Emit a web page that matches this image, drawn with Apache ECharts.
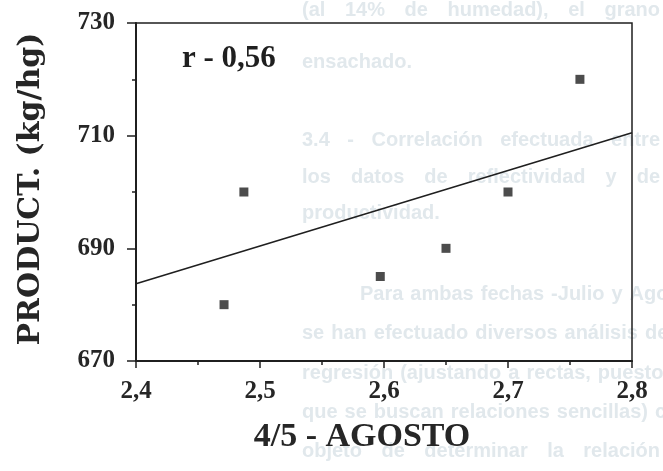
<!DOCTYPE html>
<html>
<head>
<meta charset="utf-8">
<script src="https://cdn.jsdelivr.net/npm/echarts@6/dist/echarts.min.js"></script>
<style>
  html, body { margin: 0; background: #fff; }
  #chart { width: 663px; height: 471px; }
</style>
</head>
<body>
<div id="chart"></div>
<script>
// reflectividad (4/5 agosto) vs productividad
const reflect = [2.471, 2.487, 2.597, 2.65, 2.7, 2.758];
const product = [680, 700, 685, 690, 700, 720];

// recta de regresion
const fitX = [2.4, 2.8];
const fitY = [683.7, 710.5];

const xTicks = [2.4, 2.5, 2.6, 2.7, 2.8];
const yTicks = [670, 690, 710, 730];
const rText = 'r - 0,56';

// texto de la pagina que se transparenta en el escaneo
const pageText = [
  '(al 14% de humedad), el grano',
  'ensachado.',
  '3.4 - Correlación efectuada entre',
  'los datos de reflectividad y de',
  'productividad.',
  'Para ambas fechas -Julio y Agosto-',
  'se han efectuado diversos análisis de',
  'regresión (ajustando a rectas, puesto',
  'que se buscan relaciones sencillas) con',
  'objeto de determinar la relación'
];
const pageY = [10, 62, 140, 177, 213, 294, 333, 373, 412, 451];

const ink = '#1f1f1f';
const serif = '"Liberation Serif", "DejaVu Serif", serif';
const pageFont = 'bold 20px "Liberation Sans"';

const ctx = document.createElement('canvas').getContext('2d');
ctx.font = pageFont;

function pageLine(text, y) {
  const words = text.split(' ');
  const endsPara = /\.$/.test(text) && words.length < 3;
  const x0 = text.startsWith('Para') ? 360 : 302;
  const x1 = 660;
  const widths = words.map(w => ctx.measureText(w).width);
  const total = widths.reduce((a, b) => a + b, 0);
  const gap = endsPara || words.length < 2 ? 8 : Math.max(7, (x1 - x0 - total) / (words.length - 1));
  let x = x0;
  return words.map((w, i) => {
    const el = {
      type: 'text', x: x, y: y, z: -10, silent: true,
      style: { text: w, font: pageFont, fill: '#e1e8ec', verticalAlign: 'middle' }
    };
    x += widths[i] + gap;
    return el;
  });
}

const background = pageText.flatMap((t, i) => pageLine(t, pageY[i]));

const chart = echarts.init(document.getElementById('chart'));
chart.setOption({
  animation: false,
  backgroundColor: '#fff',
  grid: {
    left: 136, right: 31, top: 23, bottom: 110,
    show: true, borderColor: ink, borderWidth: 1.5,
    backgroundColor: 'transparent'
  },
  graphic: background.concat([{
    type: 'text', left: 182, top: 43, z: 10,
    style: { text: rText, font: 'bold 31px "Liberation Serif"', fill: ink }
  }]),
  xAxis: {
    type: 'value',
    min: xTicks[0],
    max: xTicks[xTicks.length - 1],
    interval: 0.1,
    splitLine: { show: false },
    axisLine: { lineStyle: { color: ink, width: 2 } },
    axisTick: { length: 7, lineStyle: { color: ink, width: 1.5 } },
    minorTick: { show: true, splitNumber: 2, length: 4, lineStyle: { color: ink, width: 1.5 } },
    axisLabel: {
      formatter: v => v.toFixed(1).replace('.', ','),
      fontFamily: serif, fontWeight: 'bold', fontSize: 25, color: '#262626', margin: 18
    },
    name: '4/5 - AGOSTO',
    nameLocation: 'middle',
    nameGap: 59,
    nameTextStyle: {
      fontFamily: serif, fontWeight: 'bold', fontSize: 34, color: '#262626',
      padding: [0, 44, 0, 0]
    }
  },
  yAxis: {
    type: 'value',
    min: yTicks[0],
    max: yTicks[yTicks.length - 1],
    interval: yTicks[1] - yTicks[0],
    splitLine: { show: false },
    axisLine: { lineStyle: { color: ink, width: 2 } },
    axisTick: { length: 9, lineStyle: { color: ink, width: 1.5 } },
    minorTick: { show: true, splitNumber: 2, length: 4, lineStyle: { color: ink, width: 1.5 } },
    axisLabel: {
      fontFamily: serif, fontWeight: 'bold', fontSize: 25, color: '#262626', margin: 21
    },
    name: 'PRODUCT. (kg/hg)',
    nameLocation: 'middle',
    nameGap: 90,
    nameTextStyle: {
      fontFamily: '"DejaVu Serif", serif',
      fontWeight: 'bold', fontSize: 30, color: '#262626',
      padding: [0, 0, 0, 6]
    }
  },
  series: [
    {
      type: 'scatter',
      symbol: 'rect',
      symbolSize: 9,
      itemStyle: { color: ink },
      data: reflect.map((x, i) => [x, product[i]])
    },
    {
      type: 'line',
      showSymbol: false,
      lineStyle: { color: ink, width: 1.6 },
      data: fitX.map((x, i) => [x, fitY[i]])
    }
  ]
});
</script>
</body>
</html>
